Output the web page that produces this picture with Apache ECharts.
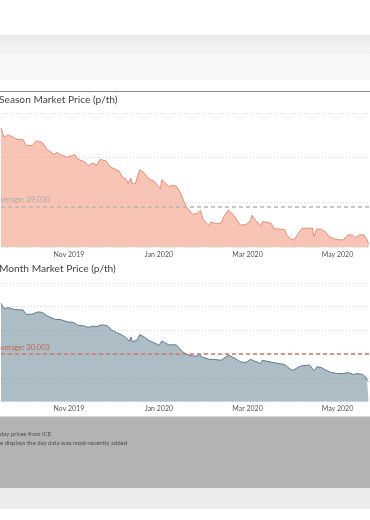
<!DOCTYPE html>
<html>
<head>
<meta charset="utf-8">
<script src="https://cdn.jsdelivr.net/npm/echarts@6/dist/echarts.min.js"></script>
<style>
html,body{margin:0;padding:0;background:#fff;}
#c{width:370px;height:520px;}
</style>
</head>
<body>
<div id="c"></div>
<script>
// ---- DATA ----
const seasonDates = ['2019-09-16','2019-09-18','2019-09-21','2019-09-24','2019-09-27','2019-10-01','2019-10-02','2019-10-03','2019-10-07','2019-10-10','2019-10-14','2019-10-17','2019-10-22','2019-10-24','2019-10-26','2019-10-31','2019-11-01','2019-11-05','2019-11-07','2019-11-12','2019-11-14','2019-11-17','2019-11-20','2019-11-22','2019-11-26','2019-11-29','2019-12-02','2019-12-05','2019-12-07','2019-12-10','2019-12-11','2019-12-13','2019-12-14','2019-12-16','2019-12-19','2019-12-22','2019-12-25','2019-12-29','2019-12-31','2020-01-02','2020-01-03','2020-01-05','2020-01-08','2020-01-10','2020-01-11','2020-01-13','2020-01-16','2020-01-18','2020-01-20','2020-01-24','2020-01-27','2020-01-29','2020-01-31','2020-02-04','2020-02-05','2020-02-08','2020-02-12','2020-02-14','2020-02-17','2020-02-21','2020-02-25','2020-02-29','2020-03-03','2020-03-04','2020-03-06','2020-03-10','2020-03-11','2020-03-12','2020-03-14','2020-03-17','2020-03-19','2020-03-23','2020-03-26','2020-03-28','2020-03-31','2020-04-02','2020-04-05','2020-04-07','2020-04-11','2020-04-14','2020-04-15','2020-04-17','2020-04-20','2020-04-23','2020-04-25','2020-04-29','2020-05-02','2020-05-05','2020-05-08','2020-05-11','2020-05-13','2020-05-16','2020-05-19','2020-05-21','2020-05-22'];
const seasonValues = [56.6,54.6,55.1,54.6,54.1,54.0,53.6,52.7,52.7,53.8,53.4,51.9,50.7,51.2,50.7,50.1,49.7,50.7,49.7,49.0,48.2,48.8,48.4,49.6,49.3,47.9,47.5,47.0,45.7,45.1,44.2,45.4,44.1,44.2,47.3,46.6,45.3,44.7,43.8,43.0,45.1,44.4,43.5,43.8,43.5,43.6,41.8,40.1,38.8,37.3,37.5,38.2,36.2,34.7,35.6,35.3,35.3,36.8,38.3,37.0,34.9,35.0,35.9,37.1,36.2,34.6,35.6,35.3,35.6,35.3,34.1,34.0,33.9,32.5,31.6,31.8,33.3,34.2,34.2,34.2,32.3,34.0,34.0,33.3,32.4,31.8,31.6,31.6,32.7,32.7,32.1,32.7,32.7,31.6,30.7];
const seasonAverage = 39.030;

const monthDates = ['2019-09-16','2019-09-18','2019-09-21','2019-09-25','2019-10-01','2019-10-03','2019-10-07','2019-10-11','2019-10-14','2019-10-17','2019-10-23','2019-10-24','2019-10-26','2019-10-31','2019-11-04','2019-11-07','2019-11-12','2019-11-14','2019-11-17','2019-11-20','2019-11-23','2019-11-27','2019-11-30','2019-12-03','2019-12-07','2019-12-10','2019-12-12','2019-12-13','2019-12-14','2019-12-17','2019-12-19','2019-12-22','2019-12-25','2019-12-30','2020-01-01','2020-01-03','2020-01-05','2020-01-08','2020-01-10','2020-01-13','2020-01-17','2020-01-20','2020-01-24','2020-01-27','2020-01-29','2020-01-30','2020-02-04','2020-02-07','2020-02-12','2020-02-14','2020-02-17','2020-02-21','2020-02-25','2020-02-29','2020-03-03','2020-03-06','2020-03-10','2020-03-11','2020-03-14','2020-03-19','2020-03-26','2020-03-31','2020-04-02','2020-04-06','2020-04-12','2020-04-15','2020-04-17','2020-04-20','2020-04-23','2020-04-27','2020-05-01','2020-05-05','2020-05-08','2020-05-12','2020-05-14','2020-05-18','2020-05-20','2020-05-21','2020-05-22'];
const monthValues = [40.7,39.6,39.8,39.4,39.3,38.4,38.4,38.9,38.8,38.1,37.3,37.6,37.3,36.8,36.7,36.1,35.9,35.6,35.9,35.8,36.2,36.0,35.1,34.6,34.0,33.4,32.7,33.6,32.6,32.9,34.1,33.6,32.9,32.2,31.8,32.8,32.4,31.9,32.0,31.9,30.5,29.9,29.6,29.6,29.9,29.4,28.9,28.9,28.7,29.1,29.8,29.2,28.4,28.2,28.9,28.5,28.0,28.7,28.5,28.2,27.8,26.6,26.8,27.5,27.7,26.5,27.3,27.2,26.6,26.1,25.9,25.9,26.1,25.7,25.9,25.7,25.2,24.5,24.2];
const monthAverage = 30.003;

const xLabelDates = ['2019-11-01','2020-01-01','2020-03-01','2020-05-01'];
const xMin = '2019-09-16';
const xMax = '2020-05-23';

const seasonTitle = 'Season Market Price (p/th)';
const monthTitle = 'Month Market Price (p/th)';
const footnotes = ['day prices from ICE', 'e displays the day data was most-recently added'];

// ---- CHART ----
const FONT = 'Lato, "DejaVu Sans", sans-serif';
const MONTHS = ['Jan','Feb','Mar','Apr','May','Jun','Jul','Aug','Sep','Oct','Nov','Dec'];
function ts(d){ return Date.UTC(+d.slice(0,4), +d.slice(5,7)-1, +d.slice(8,10)); }
const labelTs = xLabelDates.map(ts);
function fmt(v){ const d = new Date(v); return MONTHS[d.getUTCMonth()] + ' ' + d.getUTCFullYear(); }
function pairs(ds, vs){ return ds.map((d,i)=>[ts(d), vs[i]]); }

function xAxis(gi){
  return {
    type:'value', gridIndex:gi, min:ts(xMin), max:ts(xMax),
    axisLine:{show:false}, axisTick:{show:false}, splitLine:{show:false},
    axisLabel:{customValues:labelTs, formatter:fmt, color:'#555', fontSize:7, fontFamily:FONT, margin:4}
  };
}
function yAxis(gi, min, max, step){
  return {
    type:'value', gridIndex:gi, min:min, max:max, interval:step,
    axisLine:{show:false}, axisTick:{show:false}, axisLabel:{show:false},
    splitLine:{show:true, lineStyle:{color:'#d8d8d8', type:[1,2], width:1}}
  };
}

const chart = echarts.init(document.getElementById('c'), null, {renderer:'canvas'});
chart.setOption({
  animation:false,
  backgroundColor:'#ffffff',
  graphic:[
    {type:'rect', shape:{x:0,y:35,width:370,height:17}, style:{fill:new echarts.graphic.LinearGradient(0,0,0,1,[{offset:0,color:'#e9e9e9'},{offset:1,color:'#f6f6f6'}])}, silent:true},
    {type:'rect', shape:{x:0,y:52,width:370,height:28}, style:{fill:'#f7f7f7'}, silent:true},
    {type:'line', shape:{x1:0,y1:52.5,x2:370,y2:52.5}, style:{stroke:'#ececec', lineWidth:1}, silent:true},
    {type:'line', shape:{x1:0,y1:91.5,x2:370,y2:91.5}, style:{stroke:'#8c8c8c', lineWidth:1}, silent:true},
    {type:'text', x:-1, y:100, style:{text:seasonTitle, fill:'#444', font:'10.2px ' + FONT, textVerticalAlign:'middle'}, silent:true},
    {type:'text', x:-1, y:269, style:{text:monthTitle, fill:'#444', font:'10.2px ' + FONT, textVerticalAlign:'middle'}, silent:true},
    {type:'rect', shape:{x:0,y:416.5,width:370,height:71.5}, style:{fill:'#b3b3b3'}, silent:true},
    {type:'rect', shape:{x:0,y:488,width:370,height:21}, style:{fill:'#ececec'}, silent:true},
    {type:'text', x:0, y:434, style:{text:footnotes[0], fill:'#4a4a4a', font:'6px ' + FONT, textVerticalAlign:'middle'}, silent:true},
    {type:'text', x:0, y:443, style:{text:footnotes[1], fill:'#4a4a4a', font:'6px ' + FONT, textVerticalAlign:'middle'}, silent:true}
  ],
  grid:[
    {left:1, right:0, top:113, height:134},
    {left:1, right:0, top:283, height:118.5}
  ],
  xAxis:[xAxis(0), xAxis(1)],
  yAxis:[yAxis(0,30,60,10), yAxis(1,20,45,5)],
  series:[
    {
      type:'line', xAxisIndex:0, yAxisIndex:0, data:pairs(seasonDates, seasonValues),
      showSymbol:false, lineStyle:{color:'#ec8a70', width:1}, areaStyle:{color:'#ef8a6d', opacity:0.5},
      markLine:{symbol:'none', silent:true, data:[{yAxis:seasonAverage}],
        lineStyle:{color:'#b5b5b5', type:[4,3], width:1.5},
        label:{position:'insideStartTop', formatter:()=> 'average: ' + seasonAverage.toFixed(3), color:'#aaa', fontSize:7.5, fontFamily:FONT, distance:[-4,3]}}
    },
    {
      type:'line', xAxisIndex:1, yAxisIndex:1, data:pairs(monthDates, monthValues),
      showSymbol:false, lineStyle:{color:'#5b7b8d', width:1}, areaStyle:{color:'#5b7b8d', opacity:0.5},
      markLine:{symbol:'none', silent:true, data:[{yAxis:monthAverage}],
        lineStyle:{color:'#d87460', type:[4,3], width:1.5},
        label:{position:'insideStartTop', formatter:()=> 'average: ' + monthAverage.toFixed(3), color:'#c9634d', fontSize:7.5, fontFamily:FONT, distance:[-4,3]}}
    }
  ]
});
</script>
</body>
</html>
